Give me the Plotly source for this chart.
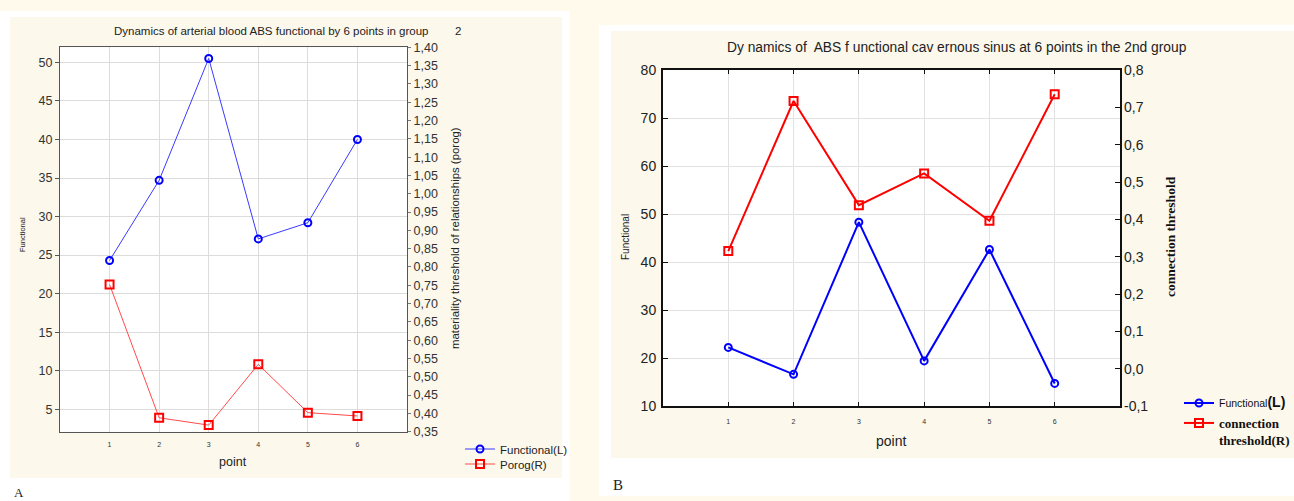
import plotly.graph_objects as go

W, H = 1294, 501

# ---------------- data ----------------
points = [1, 2, 3, 4, 5, 6]
a_functional = [24.3, 34.7, 50.5, 27.1, 29.2, 40.0]
a_porog = [0.752, 0.388, 0.368, 0.534, 0.402, 0.393]
b_functional = [22.2, 16.6, 48.3, 19.4, 42.6, 14.7]
b_threshold = [0.315, 0.717, 0.438, 0.523, 0.396, 0.735]

x_ticktext = ["1", "2", "3", "4", "5", "6"]
a_left_ticks = [5, 10, 15, 20, 25, 30, 35, 40, 45, 50]
a_right_ticks = [round(0.35 + 0.05 * i, 2) for i in range(22)]
a_right_ticktext = [f"{v:.2f}".replace(".", ",") for v in a_right_ticks]
b_left_ticks = [10, 20, 30, 40, 50, 60, 70, 80]
b_right_ticks = [round(-0.1 + 0.1 * i, 1) for i in range(10)]
b_right_ticktext = [f"{v:.1f}".replace(".", ",") for v in b_right_ticks]

SANS = "Liberation Sans, Arial, sans-serif"
SERIF = "Liberation Serif, Times New Roman, serif"


def px(x):
    return x / W


def py(y):
    return 1 - y / H


fig = go.Figure()

# ---------------- panel A ----------------
fig.add_trace(go.Scatter(
    x=points, y=a_functional, name="Functional(L)", xaxis="x", yaxis="y",
    mode="lines+markers", line=dict(color="#3a3aff", width=1),
    marker=dict(symbol="circle-open", size=7, color="#0000ff", line=dict(width=2)),
    legend="legend"))
fig.add_trace(go.Scatter(
    x=points, y=a_porog, name="Porog(R)", xaxis="x", yaxis="y2",
    mode="lines+markers", line=dict(color="#ff4a4a", width=1),
    marker=dict(symbol="square-open", size=8, color="#ff0000", line=dict(width=2)),
    legend="legend3"))

# ---------------- panel B ----------------
fig.add_trace(go.Scatter(
    x=points, y=b_functional,
    name="Functional<span style='font-size:14px;font-weight:bold'>(L)</span>",
    xaxis="x2", yaxis="y3",
    mode="lines+markers", line=dict(color="#0000ff", width=2),
    marker=dict(symbol="circle-open", size=7, color="#0000ff", line=dict(width=2)),
    legend="legend2"))
fig.add_trace(go.Scatter(
    x=points, y=b_threshold,
    name=f"<span style='font-family:{SERIF};font-weight:bold'>connection<br>threshold(R)</span>",
    xaxis="x2", yaxis="y4",
    mode="lines+markers", line=dict(color="#ff0000", width=2),
    marker=dict(symbol="square-open", size=8, color="#ff0000", line=dict(width=2)),
    legend="legend4"))

shapes = [
    # left picture: white border and cream panel
    dict(type="rect", xref="paper", yref="paper", x0=px(0), x1=px(570), y0=py(501), y1=py(11),
         fillcolor="#ffffff", line=dict(width=0), layer="below"),
    dict(type="rect", xref="paper", yref="paper", x0=px(10), x1=px(562), y0=py(478), y1=py(17),
         fillcolor="#fcf8ec", line=dict(width=0), layer="below"),
    # right picture
    dict(type="rect", xref="paper", yref="paper", x0=px(599), x1=px(1294), y0=py(496), y1=py(25),
         fillcolor="#ffffff", line=dict(width=0), layer="below"),
    dict(type="rect", xref="paper", yref="paper", x0=px(611), x1=px(1294), y0=py(458), y1=py(31),
         fillcolor="#fcf8ec", line=dict(width=0), layer="below"),
    # white plot areas
    dict(type="rect", xref="paper", yref="paper", x0=px(60), x1=px(407), y0=py(431.7), y1=py(47.3),
         fillcolor="#ffffff", line=dict(width=0), layer="below"),
    dict(type="rect", xref="paper", yref="paper", x0=px(663), x1=px(1120), y0=py(406), y1=py(70),
         fillcolor="#ffffff", line=dict(width=0), layer="below"),
]


def ann(text, x, y, size, angle=0, family=SANS, color="#222222", xanchor="center"):
    return dict(text=text, x=px(x), y=py(y), xref="paper", yref="paper", showarrow=False,
                textangle=angle, xanchor=xanchor, yanchor="middle",
                font=dict(size=size, family=family, color=color))


annotations = [
    ann("Dynamics of arterial blood ABS functional by 6 points in group", 271, 31, 11.5),
    ann("2", 458, 31, 11.5),
    ann("Functional", 23, 235, 7.5, angle=-90),
    ann("materiality threshold of relationships (porog)", 455, 238, 11.4, angle=-90),
    ann("point", 233, 462, 12.5),
    ann("A", 12, 492, 13, family=SERIF, xanchor="left"),
    ann("Dy namics of  ABS f unctional cav ernous sinus at 6 points in the 2nd group", 957, 48, 13.8),
    ann("Functional", 625, 237, 10, angle=-90),
    ann("<b>connection threshold</b>", 1170, 237, 13.5, angle=-90, family=SERIF, color="#111111"),
    ann("point", 891, 441, 14),
    ann("B", 611, 485, 15, family=SERIF, xanchor="left"),
]

leg_common = dict(xanchor="left", bgcolor="rgba(0,0,0,0)", borderwidth=0,
                  itemwidth=30, tracegroupgap=0)

fig.update_layout(
    width=W, height=H,
    margin=dict(l=0, r=0, t=0, b=0, autoexpand=False),
    paper_bgcolor="#fffaeb",
    plot_bgcolor="rgba(0,0,0,0)",
    shapes=shapes,
    annotations=annotations,
    font=dict(family=SANS, color="#222222"),
    # panel A axes
    xaxis=dict(domain=[px(60), px(407)], range=[0, 7], tickvals=points, ticktext=x_ticktext,
               anchor="y", showgrid=True, gridcolor="#dcdcdc", gridwidth=1, zeroline=False,
               showline=True, mirror=True, linecolor="#555555", linewidth=1,
               ticks="", ticklabelstandoff=6, tickfont=dict(size=7, color="#333333")),
    yaxis=dict(domain=[py(431.7), py(47.3)], range=[2.1, 51.95], tickvals=a_left_ticks,
               anchor="x", showgrid=True, gridcolor="#dcdcdc", gridwidth=1, zeroline=False,
               showline=True, mirror=True, linecolor="#555555", linewidth=1,
               ticks="outside", ticklen=4, tickcolor="#555555",
               tickfont=dict(size=12.5, color="#333333")),
    yaxis2=dict(range=[0.35, 1.40], tickvals=a_right_ticks, ticktext=a_right_ticktext,
                overlaying="y", side="right", anchor="x", showgrid=False, zeroline=False,
                showline=False, ticks="outside", ticklen=3, tickcolor="#777777",
                tickfont=dict(size=12.5, color="#333333")),
    # panel B axes
    xaxis2=dict(domain=[px(663), px(1120)], range=[0, 7], tickvals=points, ticktext=x_ticktext,
                anchor="y3", showgrid=True, gridcolor="#e2e2e2", gridwidth=1, zeroline=False,
                showline=True, mirror="ticks", linecolor="#111111", linewidth=2,
                ticks="inside", ticklen=4, tickcolor="#111111", tickwidth=1,
                ticklabelstandoff=8, tickfont=dict(size=7, color="#333333")),
    yaxis3=dict(domain=[py(406), py(70)], range=[10, 80], tickvals=b_left_ticks,
                anchor="x2", showgrid=True, gridcolor="#e2e2e2", gridwidth=1, zeroline=False,
                showline=True, mirror=True, linecolor="#111111", linewidth=2,
                ticks="inside", ticklen=5, tickcolor="#111111", tickwidth=1,
                ticklabelstandoff=2, tickfont=dict(size=14, color="#222222")),
    yaxis4=dict(range=[-0.1, 0.8], tickvals=b_right_ticks, ticktext=b_right_ticktext,
                overlaying="y3", side="right", anchor="x2", showgrid=False, zeroline=False,
                showline=False, ticks="inside", ticklen=5, tickcolor="#111111", tickwidth=1,
                ticklabelstandoff=3, tickfont=dict(size=14, color="#222222")),
    legend=dict(x=px(460), y=py(449), yanchor="middle",
                font=dict(size=11.5, family=SANS, color="#222222"), **leg_common),
    legend3=dict(x=px(460), y=py(464), yanchor="middle",
                 font=dict(size=11.5, family=SANS, color="#222222"), **leg_common),
    legend2=dict(x=px(1179), y=py(403), yanchor="middle",
                 font=dict(size=10.5, family=SANS, color="#111111"), **leg_common),
    legend4=dict(x=px(1179), y=py(408), yanchor="top", valign="top",
                 font=dict(size=13, family=SANS, color="#111111"), **leg_common),
    showlegend=True,
)

fig.write_html("out.html")
